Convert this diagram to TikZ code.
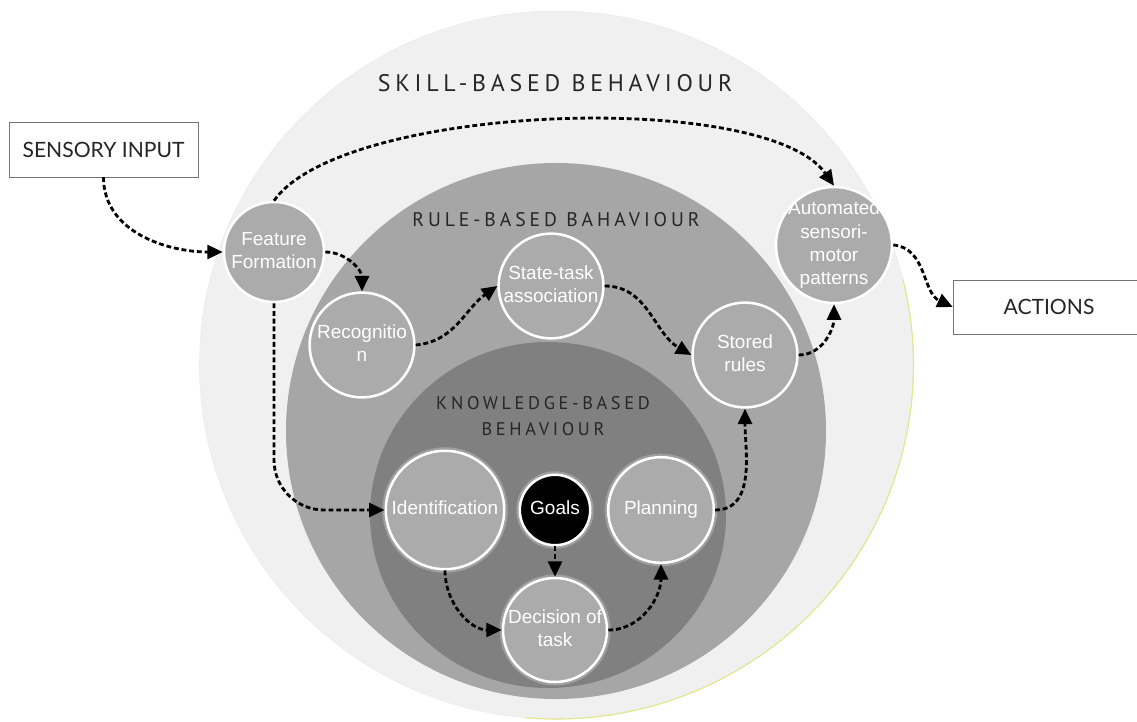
\documentclass[tikz,border=0pt]{standalone}
\usepackage{fontspec}
\usepackage{tikz}
\usetikzlibrary{positioning,shapes,arrows.meta}
\setmainfont{Liberation Sans}
\newfontfamily\boxfont{Lato}
\newfontfamily\levelfont[LetterSpace=20]{PT Sans}
\definecolor{skillgray}{HTML}{F0F0F0}
\definecolor{rulegray}{HTML}{A6A6A6}
\definecolor{knowgray}{HTML}{808080}
\definecolor{stagegray}{HTML}{ABABAB}
\definecolor{rimyellow}{HTML}{E3E68A}
\tikzstyle{stage}=[%
      circle, draw=white, line width=1.8pt, fill=stagegray, text=white,
      inner sep=0pt, font=\fontsize{13.5}{16.5}\selectfont
]
\tikzstyle{goal}=[%
      stage, fill=black
]
\tikzstyle{glow}=[%
      preaction={draw=white, line width=5pt, opacity=0.25}
]
\tikzstyle{io}=[%
      rectangle, draw=black!55, thin, fill=white, inner sep=0pt,
      font=\boxfont\fontsize{15}{18}\selectfont, text=black!85
]
\tikzstyle{level}=[%
      align=center, text=black!85, inner sep=0pt
]
\tikzstyle{flow}=[%
      color=black, line width=2pt, dash pattern=on 3.5pt off 2pt
]
\newcommand{\stagelabel}[1]{\raisebox{-0.55em}{\smash{\makebox[0pt]{\begin{tabular}{@{}c@{}}#1\end{tabular}}}}}

\begin{document}
\begin{tikzpicture}[x=0.025cm, y=0.025cm,
    -{Triangle[length=11pt,width=10pt]}
  ]
    \useasboundingbox (0,0) rectangle (1137,-722);

    % levels of behaviour
    \fill[skillgray, draw=black!8] (556.5,-365) ellipse [x radius=357, y radius=354];
    \draw[rimyellow, line width=0.8pt, -] (556.5,-365) ++(14:357 and 354) arc[start angle=14, end angle=-95, x radius=357, y radius=354];
    \fill[rulegray] (556,-431) ellipse [x radius=270, y radius=268];
    \fill[knowgray] (548,-515) ellipse [x radius=178, y radius=173];

    \node[level, font=\levelfont\fontsize{17}{20}\selectfont] (skill) at (555,-83) {SKILL-BASED BEHAVIOUR};
    \node[level, font=\levelfont\fontsize{14}{17}\selectfont] (rule)  at (556,-220) {RULE-BASED BAHAVIOUR};
    \node[level, font=\levelfont\fontsize{13}{18.4}\selectfont] (know) at (543,-416) {KNOWLEDGE-BASED\\BEHAVIOUR};

    % input and output
    \node[io, minimum width=4.72cm, minimum height=1.37cm] (sensory) at (103.5,-149.5) {SENSORY INPUT};
    \node[io, minimum width=4.8cm, minimum height=1.35cm]  (actions) at (1049,-307)   {ACTIONS};

    % stages
    \node[stage, minimum size=2.5cm]        (feature) at (274,-252) {\stagelabel{Feature\\Formation}};
    \node[stage, minimum size=2.62cm]       (recog)   at (362,-345) {\stagelabel{Recognitio\\n}};
    \node[stage, minimum size=2.62cm]       (state)   at (551,-286) {\stagelabel{State-task\\association}};
    \node[stage, minimum size=2.62cm]       (stored)  at (745,-355) {\stagelabel{Stored\\rules}};
    \node[stage, minimum size=2.9cm]        (auto)    at (834,-245) {\stagelabel{Automated\\sensori-\\motor\\patterns}};
    \node[stage, glow, minimum size=2.96cm] (ident)   at (445,-510) {\stagelabel{Identification}};
    \node[goal, glow, minimum size=1.76cm]  (goals)   at (555,-510) {\stagelabel{Goals}};
    \node[stage, glow, minimum size=2.64cm] (plan)    at (661,-510) {\stagelabel{Planning}};
    \node[stage, glow, minimum size=2.6cm]  (decide)  at (555,-630) {\stagelabel{Decision of\\task}};

    \path[flow]
          (sensory.south) edge[out=-90, in=180] (feature.west)
          (feature.north) edge[out=55, in=125, looseness=0.54] (auto.north)
          (feature.east)  edge[out=0, in=90] (recog.north)
          (recog.east)    edge[out=5, in=215] (state.west)
          (state.east)    edge[out=0, in=150] (stored.west)
          (stored.east)   edge[out=0, in=-90] (auto.south)
          (auto.east)     edge[out=-5, in=155] (actions.west)
          (ident.south)   edge[out=-90, in=180] (decide.west)
          (goals.south)   edge (decide.north)
          (decide.east)   edge[out=0, in=-90] (plan.south)
          (plan.east)     edge[out=0, in=-90] (stored.south)
    ;
    \draw[flow, rounded corners=1.25cm] (feature.south) |- (ident.west);

  \end{tikzpicture}
\end{document}
